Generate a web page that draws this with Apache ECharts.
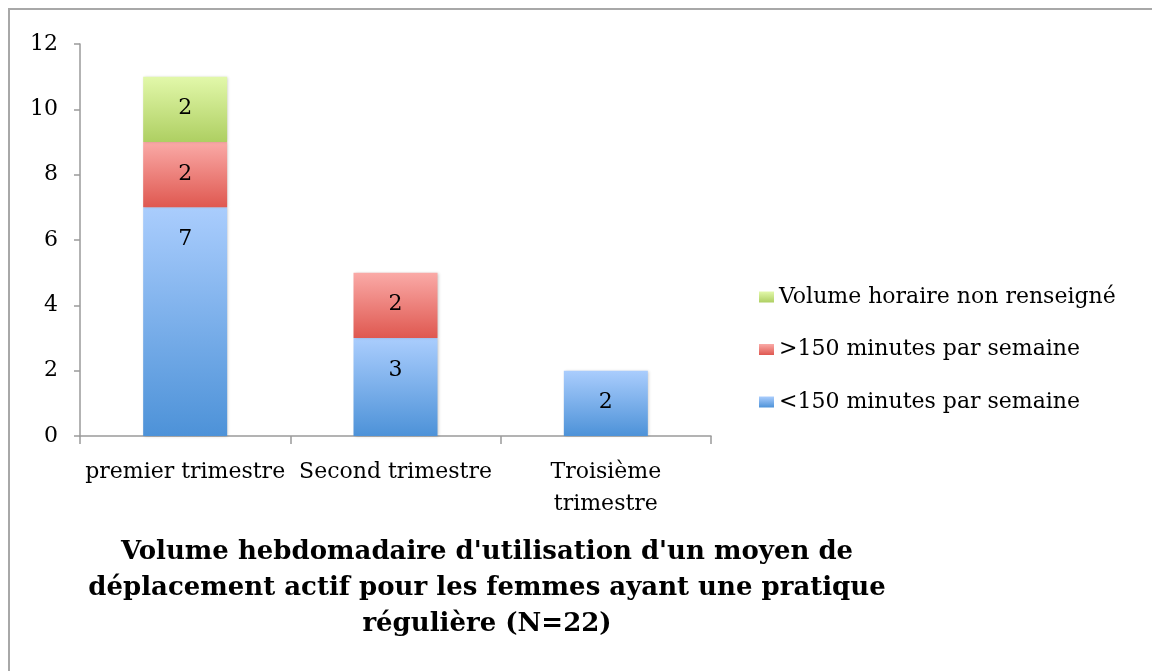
<!DOCTYPE html>
<html>
<head>
<meta charset="utf-8">
<style>
  html, body { margin: 0; padding: 0; background: #fff; }
  #chart { width: 1152px; height: 671px; position: relative; }
  #frame { position: absolute; left: 8px; top: 8px; width: 1200px; height: 700px;
           border-left: 2px solid #a8a8a8; border-top: 2px solid #a8a8a8; pointer-events: none; }
</style>
<script src="https://cdn.jsdelivr.net/npm/echarts@6/dist/echarts.min.js"></script>
</head>
<body>
<div id="chart"></div>
<div id="frame"></div>
<script>
// Trimesters on the category axis
const categories = ['premier trimestre', 'Second trimestre', 'Troisième\ntrimestre'];
// Counts per trimester, one array per weekly-volume class
const lessThan150 = [7, 3, 2];
const moreThan150 = [2, 2, null];
const notReported = [2, null, null];
const seriesNames = ['<150 minutes par semaine', '>150 minutes par semaine', 'Volume horaire non renseigné'];
const yTicks = [0, 2, 4, 6, 8, 10, 12];
const chartTitle = "Volume hebdomadaire d'utilisation d'un moyen de\ndéplacement actif pour les femmes ayant une pratique\nrégulière (N=22)";

const FONT = 'DejaVu Serif';
const FS = 22;

function grad(top, bottom) {
  return new echarts.graphic.LinearGradient(0, 0, 0, 1, [
    { offset: 0, color: top },
    { offset: 1, color: bottom }
  ]);
}

const palette = [
  grad('#aacdfd', '#4d92d8'),
  grad('#faaaa7', '#df5850'),
  grad('#e2f8aa', '#aecf62')
];

const values = [lessThan150, moreThan150, notReported];

const chart = echarts.init(document.getElementById('chart'), null, { renderer: 'canvas' });

chart.setOption({
  animation: false,
  backgroundColor: '#ffffff',
  textStyle: { fontFamily: FONT },
  grid: { left: 80, right: 441, top: 44, bottom: 235, containLabel: false },
  legend: {
    orient: 'vertical',
    left: 754,
    top: 281,
    itemGap: 30.5,
    itemWidth: 15,
    itemHeight: 11,
    icon: 'rect',
    data: seriesNames.slice().reverse(),
    textStyle: { fontFamily: FONT, fontSize: FS, color: '#000' }
  },
  xAxis: {
    type: 'category',
    data: categories,
    axisLine: { lineStyle: { color: '#9a9a9a', width: 1.5 } },
    axisTick: { show: true, length: 8, alignWithLabel: false, lineStyle: { color: '#9a9a9a', width: 1.5 } },
    axisLabel: { interval: 0, margin: 20, fontFamily: FONT, fontSize: FS, color: '#000', lineHeight: 32 }
  },
  yAxis: {
    type: 'value',
    min: yTicks[0],
    max: yTicks[yTicks.length - 1],
    interval: 2,
    splitLine: { show: false },
    axisLine: { show: true, lineStyle: { color: '#9a9a9a', width: 1.5 } },
    axisTick: { show: true, length: 6, lineStyle: { color: '#9a9a9a', width: 1.5 } },
    axisLabel: { margin: 22, fontFamily: FONT, fontSize: FS, color: '#000' }
  },
  series: seriesNames.map((name, i) => ({
    name: name,
    type: 'bar',
    stack: 'total',
    barWidth: 84,
    data: values[i],
    itemStyle: {
      color: palette[i],
      shadowColor: 'rgba(0,0,0,0.22)',
      shadowBlur: 3,
      shadowOffsetX: 1,
      shadowOffsetY: 0
    },
    label: {
      show: true,
      position: 'insideTop',
      distance: 21,
      fontFamily: FONT,
      fontSize: FS,
      color: '#000',
      formatter: p => (p.value == null ? '' : String(p.value))
    }
  })),
  graphic: [{
    type: 'text',
    x: 487,
    y: 534,
    style: {
      text: chartTitle,
      textAlign: 'center',
      textVerticalAlign: 'top',
      font: 'bold 26px "' + FONT + '"',
      lineHeight: 36,
      fill: '#000'
    }
  }]
});
</script>
</body>
</html>
